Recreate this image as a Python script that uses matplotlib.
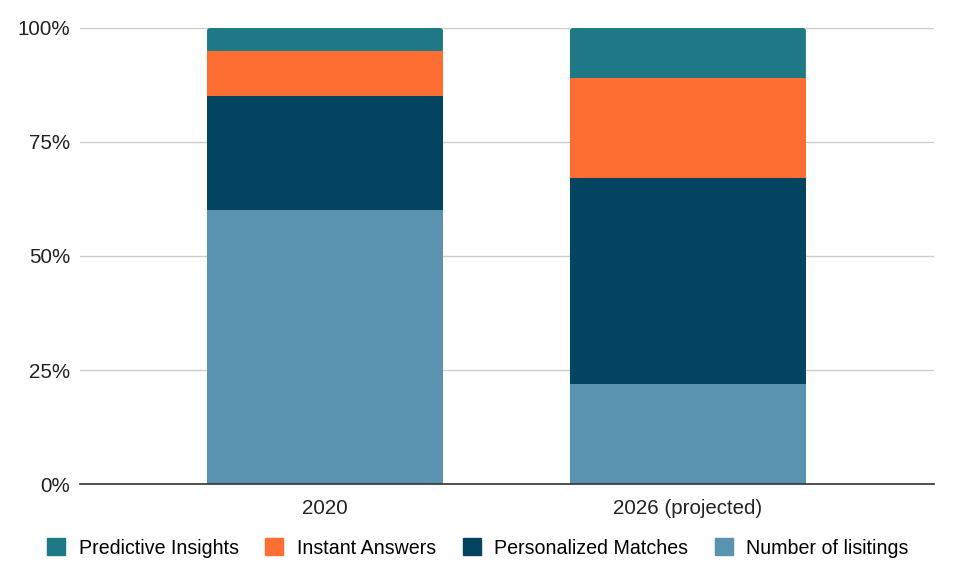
import matplotlib.pyplot as plt
from matplotlib.patches import Patch, FancyBboxPatch
import numpy as np

plt.rcParams['font.family'] = ['Liberation Sans', 'DejaVu Sans']

years = ['2020', '2026 (projected)']
listings = [60, 22]
matches = [25, 45]
instant = [10, 22]
predictive = [5, 11]

series = [
    ('Number of lisitings', listings, '#5A93B0'),
    ('Personalized Matches', matches, '#034561'),
    ('Instant Answers', instant, '#FE6E32'),
    ('Predictive Insights', predictive, '#1F7886'),
]

fig = plt.figure(figsize=(9.54, 5.82), dpi=100)
ax = fig.add_axes([80/954, (582-484)/582, (934-80)/954, 456/582])

x = np.arange(len(years))
w = 0.65
bottom = np.zeros(len(years))
for name, vals, col in series[:-1]:
    ax.bar(x, vals, w, bottom=bottom, color=col, label=name, zorder=3)
    bottom += np.array(vals)

# top segment with slightly rounded corners (drawn full height behind the rest)
top_col = series[-1][2]
for xi, b, v in zip(x, bottom, predictive):
    ax.add_patch(FancyBboxPatch((xi - w/2, 0), w, b + v,
                                boxstyle='round,pad=0,rounding_size=0.009',
                                mutation_aspect=75, color=top_col, zorder=2.5,
                                linewidth=0))

ax.set_xlim(-0.675, 1.678)
ax.set_ylim(0, 100)
ax.set_yticks([0, 25, 50, 75, 100])
ax.set_yticklabels(['0%', '25%', '50%', '75%', '100%'])
ax.set_xticks(x)
ax.set_xticklabels(years)
ax.tick_params(axis='both', length=0, labelsize=14.8, colors='#222222')
ax.tick_params(axis='x', pad=11)
ax.tick_params(axis='y', pad=7)
ax.grid(axis='y', color='#cccccc', linewidth=1, zorder=0)
for s in ['top', 'right', 'left']:
    ax.spines[s].set_visible(False)
ax.spines['bottom'].set_color('#333333')
ax.spines['bottom'].set_linewidth(1.2)
ax.spines['bottom'].set_zorder(4)

handles = [Patch(color=c, label=n) for n, v, c in series[::-1]]
fig.legend(handles=handles, loc='center', bbox_to_anchor=(478/954, 1-548/582),
           ncol=4, frameon=False, fontsize=14.1, handlelength=0.92, handleheight=0.92,
           handletextpad=0.7, columnspacing=1.35)

fig.savefig('out.png', dpi=100)
